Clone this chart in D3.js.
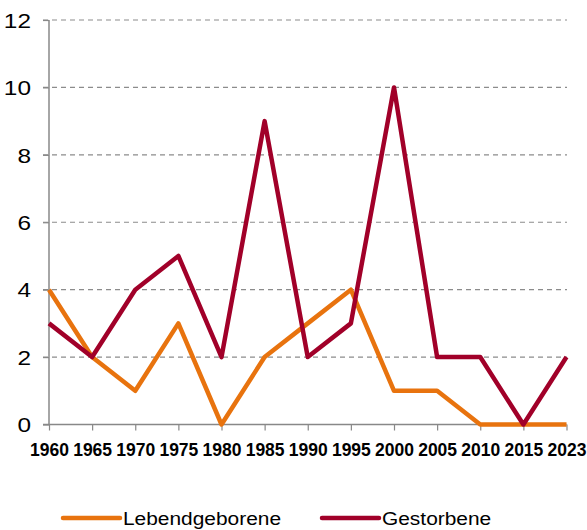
<!DOCTYPE html>
<html>
<head>
<meta charset="utf-8">
<script src="https://cdn.jsdelivr.net/npm/d3@7"></script>
<style>
  body { margin: 0; background: #fff; }
  svg { display: block; font-family: "Liberation Sans", Arial, sans-serif; }
</style>
</head>
<body>
<script>
const years = ["1960", "1965", "1970", "1975", "1980", "1985", "1990", "1995", "2000", "2005", "2010", "2015", "2023"];
const lebendgeborene = [4, 2, 1, 3, 0, 2, 3, 4, 1, 1, 0, 0, 0];
const gestorbene = [3, 2, 4, 5, 2, 9, 2, 3, 10, 2, 2, 0, 2];
const yTicks = [0, 2, 4, 6, 8, 10, 12];

const series = [
  { name: "Lebendgeborene", values: lebendgeborene, color: "#e8730e" },
  { name: "Gestorbene", values: gestorbene, color: "#a10029" }
];

const width = 587, height = 530;
const svg = d3.select("body").append("svg").attr("width", width).attr("height", height);

const x = d3.scalePoint().domain(years).range([49, 566.5]);
const y = d3.scaleLinear().domain([0, 12]).range([424.5, 20]);

// grid
svg.append("g").selectAll("line").data(yTicks.filter(d => d > 0)).enter().append("line")
  .attr("x1", 43).attr("x2", 567)
  .attr("y1", d => y(d)).attr("y2", d => y(d))
  .attr("stroke", "#8c8c8c").attr("stroke-width", 1.2)
  .attr("stroke-dasharray", "5,4");

// y axis
const yAxis = svg.append("g").attr("transform", "translate(49,0)")
  .call(d3.axisLeft(y).tickValues(yTicks).tickSize(6).tickPadding(0));
yAxis.select(".domain").attr("stroke", "#888").attr("stroke-width", 1.5).attr("d", `M0,${y(12)}V${y(0)}`);
yAxis.selectAll(".tick line").attr("stroke", "#888").attr("stroke-width", 1.2);
yAxis.selectAll(".tick text").remove();
yAxis.selectAll(".tick").append("text")
  .attr("fill", "#000").attr("font-size", 20).attr("text-anchor", "end")
  .attr("dy", "0.36em")
  .attr("transform", "translate(-18,0) scale(1.22,1)")
  .text(d => d);

// x axis
const xAxis = svg.append("g").attr("transform", `translate(0,${y(0)})`)
  .call(d3.axisBottom(x).tickSize(6).tickPadding(0));
xAxis.select(".domain").attr("stroke", "#888").attr("stroke-width", 1.5).attr("d", `M43,0H${x("2023")}`);
xAxis.selectAll(".tick line").attr("stroke", "#888").attr("stroke-width", 1.2);
xAxis.selectAll(".tick text")
  .attr("fill", "#000").attr("font-size", 17.5).attr("font-weight", "bold")
  .attr("y", 31).attr("dy", 0);

// lines
const line = d3.line().x((d, i) => x(years[i])).y(d => y(d));
series.forEach(s => {
  svg.append("path").datum(s.values)
    .attr("fill", "none").attr("stroke", s.color).attr("stroke-width", 4.5)
    .attr("stroke-linejoin", "round")
    .attr("d", line);
});

// legend
const legendX = [63, 322];
series.forEach((s, i) => {
  const g = svg.append("g").attr("transform", `translate(${legendX[i]},518)`);
  g.append("line").attr("x1", 0).attr("x2", 57).attr("y1", 0).attr("y2", 0)
    .attr("stroke", s.color).attr("stroke-width", 4.5).attr("stroke-linecap", "round");
  g.append("text").attr("transform", "translate(60,7) scale(1.1,1)")
    .attr("font-size", 19).attr("fill", "#000").text(s.name);
});
</script>
</body>
</html>
